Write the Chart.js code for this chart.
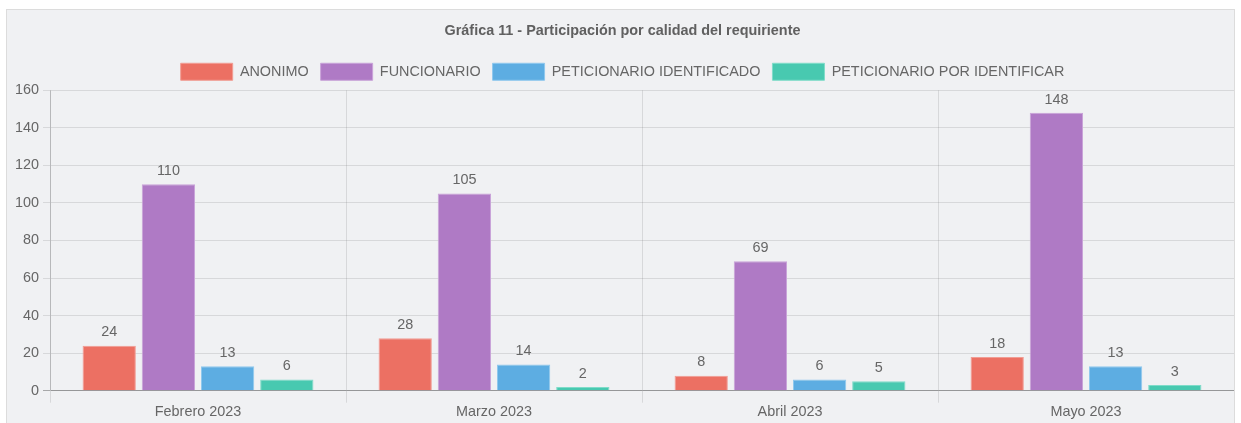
<!DOCTYPE html>
<html><head><meta charset="utf-8">
<script src="https://cdn.jsdelivr.net/npm/chart.js@4/dist/chart.umd.min.js"></script>
<style>
html,body{margin:0;padding:0;background:#fff;}
#card{position:absolute;left:6px;top:9px;width:1227px;height:420px;background:#f0f1f3;border:1px solid #dcdcdc;}
#wrap{position:absolute;left:0;top:0;width:1227px;height:412px;}
</style></head>
<body>
<div id="card"><div id="wrap"><canvas id="c"></canvas></div></div>
<script>
const categories = ["Febrero 2023","Marzo 2023","Abril 2023","Mayo 2023"];
const seriesNames = ["ANONIMO","FUNCIONARIO","PETICIONARIO IDENTIFICADO","PETICIONARIO POR IDENTIFICAR"];
const anonimo = [24,28,8,18];
const funcionario = [110,105,69,148];
const petIdentificado = [13,14,6,13];
const petPorIdentificar = [6,2,5,3];
const yTicks = [0,20,40,60,80,100,120,140,160];
const fills = ["#EC7063","#AF7AC5","#5DADE2","#48C9B0"];
const borders = ["#f19c93","#c8a2d8","#8ec8ee","#7fdcc9"];
const values = [anonimo,funcionario,petIdentificado,petPorIdentificar];

const labelPlugin = {
  id:'vals',
  afterDatasetsDraw(chart){
    const ctx = chart.ctx;
    ctx.save();
    ctx.font = '14.4px "Liberation Sans", Arial, sans-serif';
    ctx.fillStyle = '#666';
    ctx.textAlign = 'center';
    ctx.textBaseline = 'bottom';
    chart.data.datasets.forEach((ds,i)=>{
      chart.getDatasetMeta(i).data.forEach((bar,j)=>{
        ctx.fillText(String(ds.data[j]), bar.x, bar.y - 6);
      });
    });
    ctx.restore();
  }
};

Chart.defaults.font.family = '"Liberation Sans", Arial, sans-serif';
Chart.defaults.color = '#666';
new Chart(document.getElementById('c'), {
  type:'bar',
  data:{
    labels: categories,
    datasets: seriesNames.map((n,i)=>({label:n,data:values[i],backgroundColor:fills[i],borderColor:borders[i],borderWidth:1}))
  },
  options:{
    responsive:true, maintainAspectRatio:false, animation:false,
    layout:{padding:{left:4,right:0,top:0,bottom:0}},
    plugins:{
      title:{display:true,text:'Gráfica 11 - Participación por calidad del requiriente',font:{size:14.4,weight:'bold'},color:'#606060',padding:{top:12,bottom:12}},
      legend:{labels:{boxWidth:52,boxHeight:17,font:{size:14.4},color:'#666',padding:12}},
      tooltip:{enabled:false}
    },
    scales:{
      x:{grid:{color:'rgba(0,0,0,0.1)',tickLength:12},ticks:{font:{size:14.4},color:'#666',padding:1},border:{color:'rgba(0,0,0,0.1)'}},
      y:{min:0,max:160,afterBuildTicks(s){s.ticks=yTicks.map(v=>({value:v}));},
         grid:{color:c=>c.tick&&c.tick.value===0?'rgba(0,0,0,0.3)':'rgba(0,0,0,0.1)',tickLength:7},
         ticks:{font:{size:14.4},color:'#666',padding:4},border:{color:'rgba(0,0,0,0.15)'}}
    }
  },
  plugins:[labelPlugin]
});
</script>
</body></html>
